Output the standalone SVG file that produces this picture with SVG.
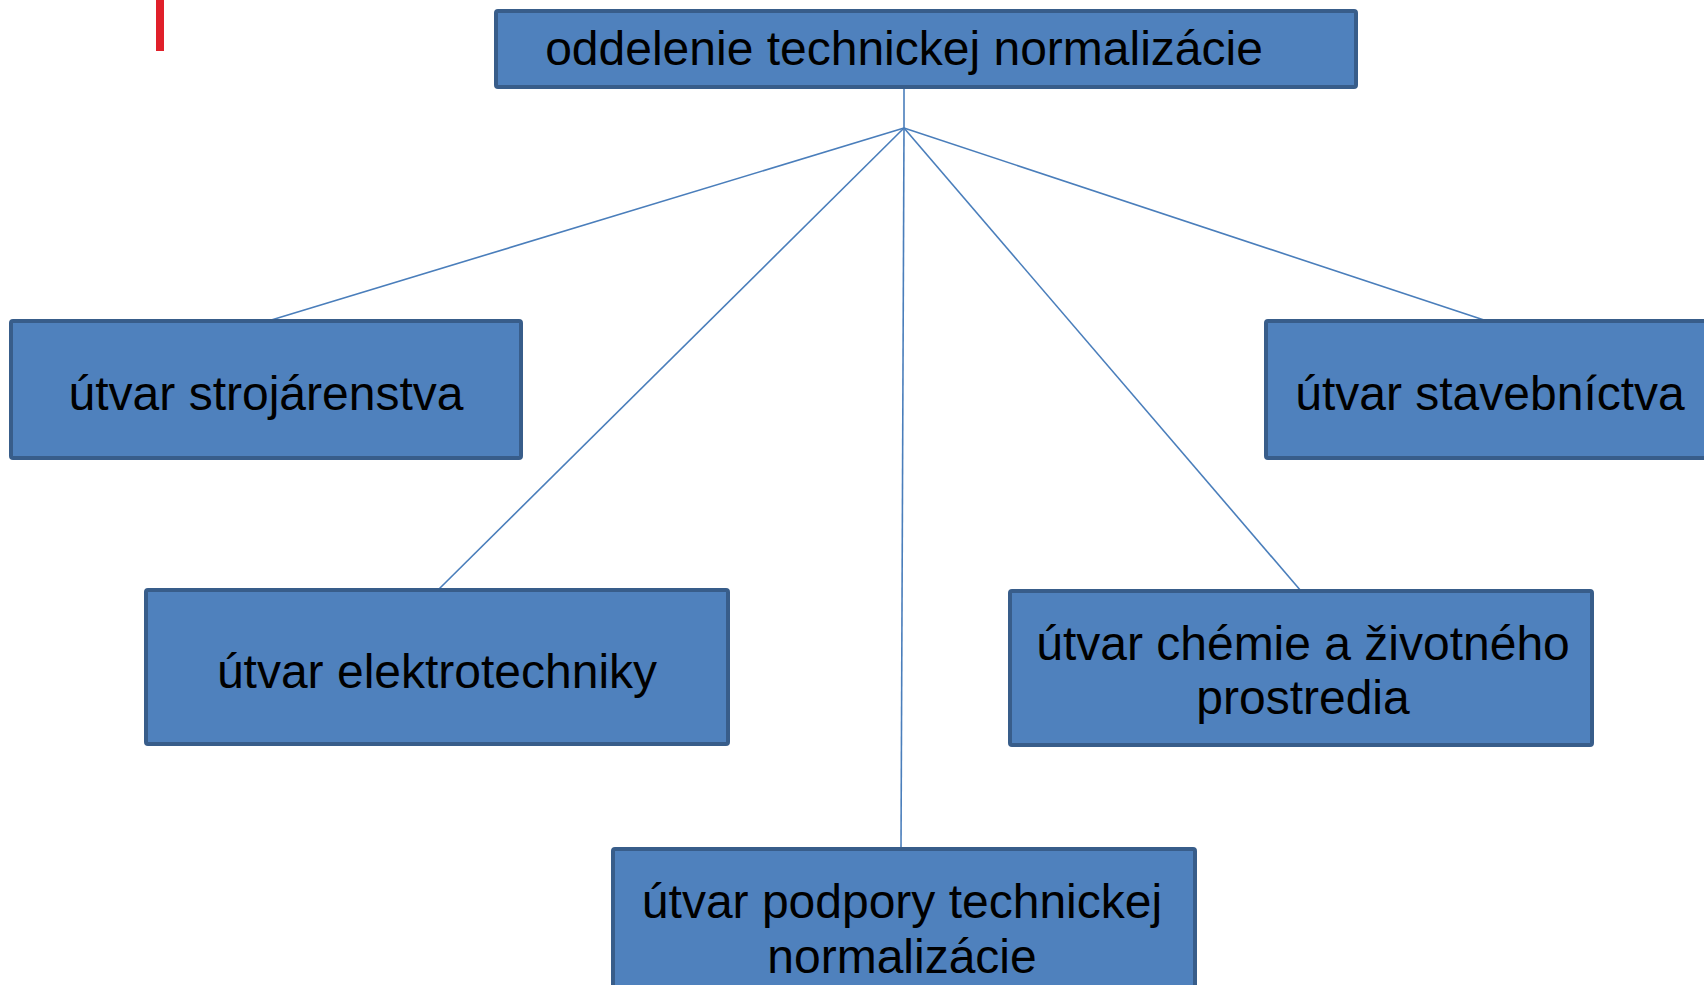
<svg xmlns="http://www.w3.org/2000/svg" width="1704" height="985" viewBox="0 0 1704 985">
<style>
.box{fill:#4F81BD;stroke:#385D8A;stroke-width:4;}
.t{font-family:"Liberation Sans",Arial,sans-serif;font-size:48px;fill:#000;text-anchor:middle;}
.c{stroke:#4A7EBB;stroke-width:1.6;fill:none;}
</style>
<rect x="0" y="0" width="1704" height="985" fill="#FFFFFF"/>
<rect x="156" y="0" width="8" height="51" fill="#E0202A"/>
<g id="connectors">
<line class="c" x1="904" y1="87" x2="904" y2="128"/>
<line class="c" x1="904" y1="128" x2="268" y2="321"/>
<line class="c" x1="904" y1="128" x2="438" y2="590"/>
<line class="c" x1="904" y1="128" x2="901" y2="849"/>
<line class="c" x1="904" y1="128" x2="1301" y2="591"/>
<line class="c" x1="904" y1="128" x2="1487" y2="321"/>
</g>
<g id="n-top">
<rect class="box" x="496" y="11" width="860" height="76" rx="2"/>
<text class="t" x="904" y="65">oddelenie technickej normalizácie</text>
</g>
<g id="n-stroj">
<rect class="box" x="11" y="321" width="510" height="137" rx="2"/>
<text class="t" x="266" y="410">útvar strojárenstva</text>
</g>
<g id="n-stav">
<rect class="box" x="1266" y="321" width="448" height="137" rx="2"/>
<text class="t" x="1490" y="410">útvar stavebníctva</text>
</g>
<g id="n-elek">
<rect class="box" x="146" y="590" width="582" height="154" rx="2"/>
<text class="t" x="437" y="688">útvar elektrotechniky</text>
</g>
<g id="n-chem">
<rect class="box" x="1010" y="591" width="582" height="154" rx="2"/>
<text class="t" x="1303" y="660">útvar chémie a životného</text>
<text class="t" x="1303" y="714">prostredia</text>
</g>
<g id="n-podp">
<rect class="box" x="613" y="849" width="582" height="160" rx="2"/>
<text class="t" x="902" y="918">útvar podpory technickej</text>
<text class="t" x="902" y="973">normalizácie</text>
</g>
</svg>
